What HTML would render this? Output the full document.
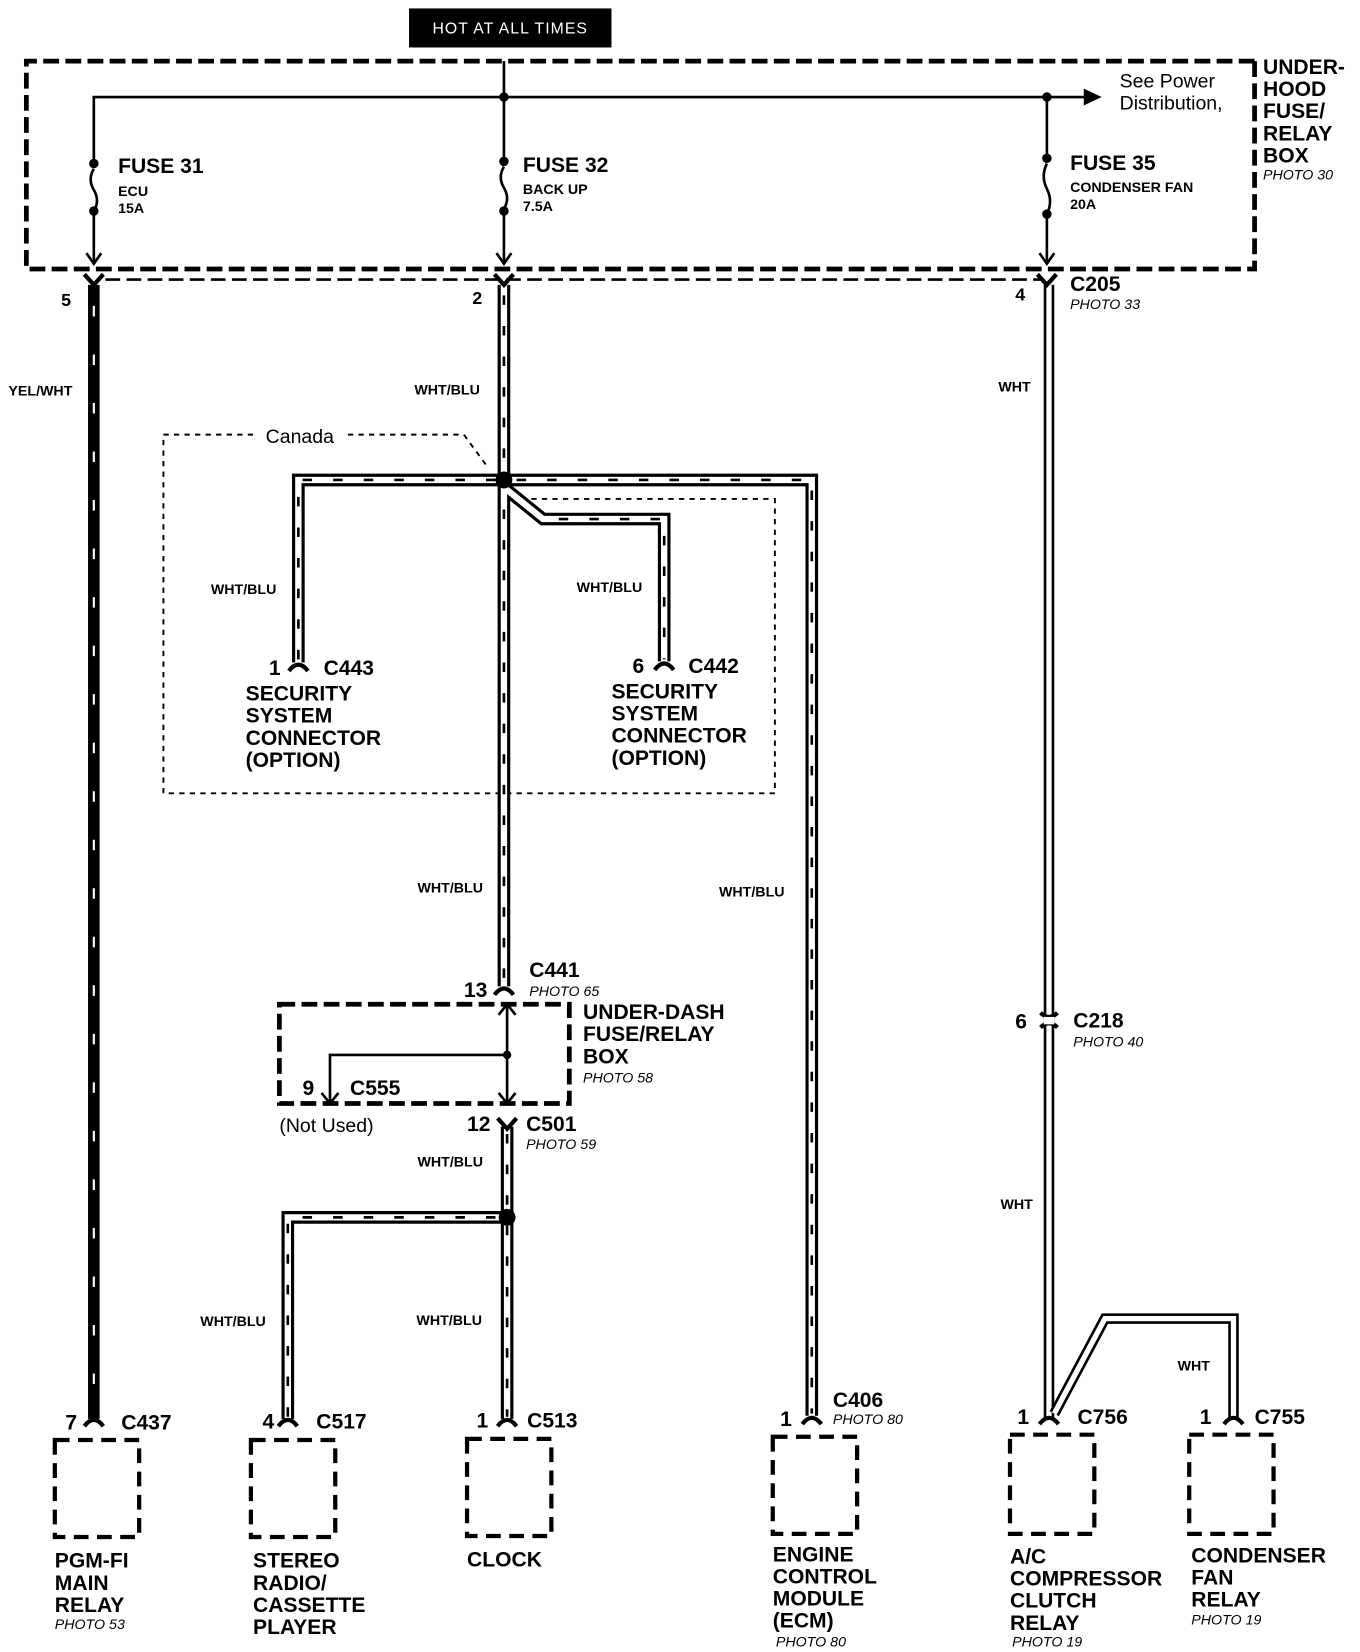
<!DOCTYPE html>
<html><head><meta charset="utf-8"><style>
html,body{margin:0;padding:0;background:#fff;}
svg{display:block;}
text{font-family:"Liberation Sans",Arial,sans-serif;fill:#000;}
.b{font-weight:bold;font-size:20px;}
.s{font-weight:bold;font-size:13.5px;}
.i{font-style:italic;font-size:13.5px;}
</style></head><body>
<svg width="1360" height="1652" viewBox="0 0 1290 1566" preserveAspectRatio="none" xmlns="http://www.w3.org/2000/svg">
<rect x="0" y="0" width="1290" height="1566" fill="#fff"/>
<rect x="388" y="8" width="192" height="37" fill="#000"/>
<text x="484" y="32" text-anchor="middle" style="font-size:15px;fill:#fff;letter-spacing:1px">HOT AT ALL TIMES</text>

<g fill="none" stroke="#000" stroke-width="4.5" stroke-dasharray="15 6">
<path d="M1190 58 L25 58 L25 255 L1190 255 L1190 58"/>
</g>
<path d="M100 265 L990 265" stroke="#000" stroke-width="2.5" stroke-dasharray="14 6" fill="none"/>
<text class="b" x="1198" y="70">UNDER-</text>
<text class="b" x="1198" y="91">HOOD</text>
<text class="b" x="1198" y="112">FUSE/</text>
<text class="b" x="1198" y="133">RELAY</text>
<text class="b" x="1198" y="154">BOX</text>
<text class="i" x="1198" y="170">PHOTO 30</text>

<g stroke="#000" stroke-width="2.5" fill="none">
<path d="M478 58 L478 92 M89 150 L89 92 L1030 92 M993 92 L993 145"/>
<path d="M89 155 V145 M89 200 V250 M478 153 V92 M478 200 V250 M993 150 V145 M993 203 V250"/>
<path d="M89 160 q-6 10 0 20 q6 10 0 20"/>
<path d="M478 158 q-6 10 0 20 q6 10 0 20"/>
<path d="M993 155 q-6 12 0 24 q6 12 0 24"/>
<path d="M82 240 L89 250 L96 240 M471 240 L478 250 L485 240 M986 240 L993 250 L1000 240"/>
</g>
<path d="M1028 84 L1045 92 L1028 100 Z" fill="#000"/>
<g fill="#000">
<circle cx="478" cy="92" r="4.5"/><circle cx="993" cy="92" r="4.5"/>
<circle cx="89" cy="155" r="4.5"/><circle cx="89" cy="200" r="4.5"/>
<circle cx="478" cy="153" r="4.5"/><circle cx="478" cy="200" r="4.5"/>
<circle cx="993" cy="150" r="4.5"/><circle cx="993" cy="203" r="4.5"/>
</g>
<text class="b" x="112" y="164">FUSE 31</text>
<text class="s" x="112" y="186">ECU</text>
<text class="s" x="112" y="202">15A</text>
<text class="b" x="496" y="163">FUSE 32</text>
<text class="s" x="496" y="184">BACK UP</text>
<text class="s" x="496" y="200">7.5A</text>
<text class="b" x="1015" y="161">FUSE 35</text>
<text class="s" x="1015" y="182">CONDENSER FAN</text>
<text class="s" x="1015" y="198">20A</text>
<text x="1062" y="83" style="font-size:18.5px">See Power</text>
<text x="1062" y="104" style="font-size:18.5px">Distribution,</text>

<g fill="none" stroke="#000" stroke-width="1.8" stroke-dasharray="5 5">
<path d="M240 412 L155 412 L155 752 L735 752 L735 473 L495 473"/>
<path d="M330 412 L440 412 L462 442"/>
</g>
<text x="252" y="420" style="font-size:18.5px">Canada</text>

<path d="M89 270 V1345" stroke="#000" stroke-width="11" fill="none"/>
<path d="M89 290 V1345" stroke="#fff" stroke-width="2" stroke-dasharray="10 36" fill="none"/>

<g fill="none" stroke-linejoin="miter">
<g stroke="#000" stroke-width="12">
<path d="M478 270 V935"/>
<path d="M478 455 H283 V628"/>
<path d="M478 455 H770 V1342"/>
<path d="M478 462 L515 492 H630 V627"/>
<path d="M481 1068 V1345"/>
<path d="M481 1154 H273 V1345"/>
</g>
<g stroke="#fff" stroke-width="6">
<path d="M478 270 V935"/>
<path d="M478 455 H283 V628"/>
<path d="M478 455 H770 V1342"/>
<path d="M478 462 L515 492 H630 V627"/>
<path d="M481 1068 V1345"/>
<path d="M481 1154 H273 V1345"/>
</g>
<g stroke="#000" stroke-width="2.5" stroke-dasharray="9 20">
<path d="M478 280 V930"/>
<path d="M470 455 H283 V625"/>
<path d="M490 455 H770 V1340"/>
<path d="M530 492 H630 V625"/>
<path d="M481 1075 V1343"/>
<path d="M470 1154 H273 V1343"/>
</g>
</g>
<circle cx="478" cy="455" r="8" fill="#000"/>
<circle cx="481" cy="1154" r="8" fill="#000"/>

<g fill="none">
<path d="M995 270 V1345" stroke="#000" stroke-width="10"/>
<path d="M995 270 V1345" stroke="#fff" stroke-width="5"/>
<path d="M1000 1340 L1048 1250 H1170 V1345" stroke="#000" stroke-width="10" stroke-linejoin="miter"/>
<path d="M1000 1340 L1048 1250 H1170 V1345" stroke="#fff" stroke-width="5" stroke-linejoin="miter"/>
<path d="M987 960 Q995 968 1003 960 M987 974 Q995 966 1003 974" stroke="#000" stroke-width="4"/>
</g>
<rect x="990" y="964" width="10" height="7" fill="#fff"/>

<g stroke="#000" stroke-width="4" fill="none">
<path d="M80 260 L89 270 L98 260"/>
<path d="M469 260 L478 270 L487 260"/>
<path d="M984 260 L993 270 L1002 260"/>
<path d="M472 1060 L481 1070 L490 1060"/>
</g>
<g stroke="#000" stroke-width="4" fill="none">
<path d="M274 636 Q283 624 292 636"/>
<path d="M621 635 Q630 623 639 635"/>
<path d="M469 943 Q478 931 487 943"/>
<path d="M80 1352 Q89 1340 98 1352"/>
<path d="M264 1352 Q273 1340 282 1352"/>
<path d="M472 1352 Q481 1340 490 1352"/>
<path d="M761 1350 Q770 1338 779 1350"/>
<path d="M986 1350 Q995 1338 1004 1350"/>
<path d="M1161 1350 Q1170 1338 1179 1350"/>
</g>

<g fill="none" stroke="#000" stroke-width="4.5" stroke-dasharray="15 6">
<path d="M265 952 L540 952 L540 1046 L265 1046 Z"/>
</g>
<g stroke="#000" stroke-width="2.5" fill="none">
<path d="M481 952 V1046 M481 1000 H313 V1044"/>
<path d="M473 962 L481 952 L489 962 M473 1036 L481 1046 L489 1036 M305 1036 L313 1046 L321 1036"/>
</g>
<circle cx="481" cy="1000" r="4" fill="#000"/>

<text class="b" x="58" y="290" style="font-size:17px">5</text>
<text class="b" x="448" y="288" style="font-size:17px">2</text>
<text class="b" x="963" y="285" style="font-size:17px">4</text>
<text class="b" x="1015" y="276">C205</text>
<text class="i" x="1015" y="293">PHOTO 33</text>
<text class="s" x="8" y="375">YEL/WHT</text>
<text class="s" x="393" y="374">WHT/BLU</text>
<text class="s" x="947" y="371">WHT</text>
<text class="s" x="200" y="563">WHT/BLU</text>
<text class="s" x="547" y="561">WHT/BLU</text>
<text class="b" x="255" y="640">1</text>
<text class="b" x="307" y="640">C443</text>
<text class="b" x="233" y="664">SECURITY</text>
<text class="b" x="233" y="685">SYSTEM</text>
<text class="b" x="233" y="706">CONNECTOR</text>
<text class="b" x="233" y="727">(OPTION)</text>
<text class="b" x="600" y="638">6</text>
<text class="b" x="653" y="638">C442</text>
<text class="b" x="580" y="662">SECURITY</text>
<text class="b" x="580" y="683">SYSTEM</text>
<text class="b" x="580" y="704">CONNECTOR</text>
<text class="b" x="580" y="725">(OPTION)</text>
<text class="s" x="396" y="846">WHT/BLU</text>
<text class="s" x="682" y="850">WHT/BLU</text>
<text class="b" x="502" y="926">C441</text>
<text class="i" x="502" y="944">PHOTO 65</text>
<text class="b" x="440" y="945">13</text>
<text class="b" x="553" y="966">UNDER-DASH</text>
<text class="b" x="553" y="987">FUSE/RELAY</text>
<text class="b" x="553" y="1008">BOX</text>
<text class="i" x="553" y="1026">PHOTO 58</text>
<text class="b" x="287" y="1038">9</text>
<text class="b" x="332" y="1038">C555</text>
<text x="265" y="1073" style="font-size:18.5px">(Not Used)</text>
<text class="b" x="443" y="1072">12</text>
<text class="b" x="499" y="1072">C501</text>
<text class="i" x="499" y="1089">PHOTO 59</text>
<text class="s" x="396" y="1106">WHT/BLU</text>
<text class="b" x="963" y="975">6</text>
<text class="b" x="1018" y="974">C218</text>
<text class="i" x="1018" y="992">PHOTO 40</text>
<text class="s" x="949" y="1146">WHT</text>
<text class="s" x="190" y="1257">WHT/BLU</text>
<text class="s" x="395" y="1256">WHT/BLU</text>
<text class="s" x="1117" y="1299">WHT</text>

<text class="b" x="62" y="1355">7</text><text class="b" x="115" y="1355">C437</text>
<text class="b" x="249" y="1354">4</text><text class="b" x="300" y="1354">C517</text>
<text class="b" x="452" y="1353">1</text><text class="b" x="500" y="1353">C513</text>
<text class="b" x="740" y="1352">1</text><text class="b" x="790" y="1334">C406</text>
<text class="i" x="790" y="1350">PHOTO 80</text>
<text class="b" x="965" y="1350">1</text><text class="b" x="1022" y="1350">C756</text>
<text class="b" x="1138" y="1350">1</text><text class="b" x="1190" y="1350">C755</text>

<g fill="none" stroke="#000" stroke-width="4" stroke-dasharray="14 8">
<rect x="52" y="1365" width="80" height="92"/>
<rect x="238" y="1365" width="80" height="92"/>
<rect x="443" y="1364" width="80" height="92"/>
<rect x="733" y="1362" width="80" height="92"/>
<rect x="958" y="1360" width="80" height="94"/>
<rect x="1128" y="1360" width="80" height="94"/>
</g>

<text class="b" x="52" y="1486">PGM-FI</text>
<text class="b" x="52" y="1507">MAIN</text>
<text class="b" x="52" y="1528">RELAY</text>
<text class="i" x="52" y="1544">PHOTO 53</text>
<text class="b" x="240" y="1486">STEREO</text>
<text class="b" x="240" y="1507">RADIO/</text>
<text class="b" x="240" y="1528">CASSETTE</text>
<text class="b" x="240" y="1549">PLAYER</text>
<text class="b" x="443" y="1485">CLOCK</text>
<text class="b" x="733" y="1480">ENGINE</text>
<text class="b" x="733" y="1501">CONTROL</text>
<text class="b" x="733" y="1522">MODULE</text>
<text class="b" x="733" y="1543">(ECM)</text>
<text class="i" x="736" y="1561">PHOTO 80</text>
<text class="b" x="958" y="1482">A/C</text>
<text class="b" x="958" y="1503">COMPRESSOR</text>
<text class="b" x="958" y="1524">CLUTCH</text>
<text class="b" x="958" y="1545">RELAY</text>
<text class="i" x="960" y="1561">PHOTO 19</text>
<text class="b" x="1130" y="1481">CONDENSER</text>
<text class="b" x="1130" y="1502">FAN</text>
<text class="b" x="1130" y="1523">RELAY</text>
<text class="i" x="1130" y="1540">PHOTO 19</text>
</svg>
</body></html>
